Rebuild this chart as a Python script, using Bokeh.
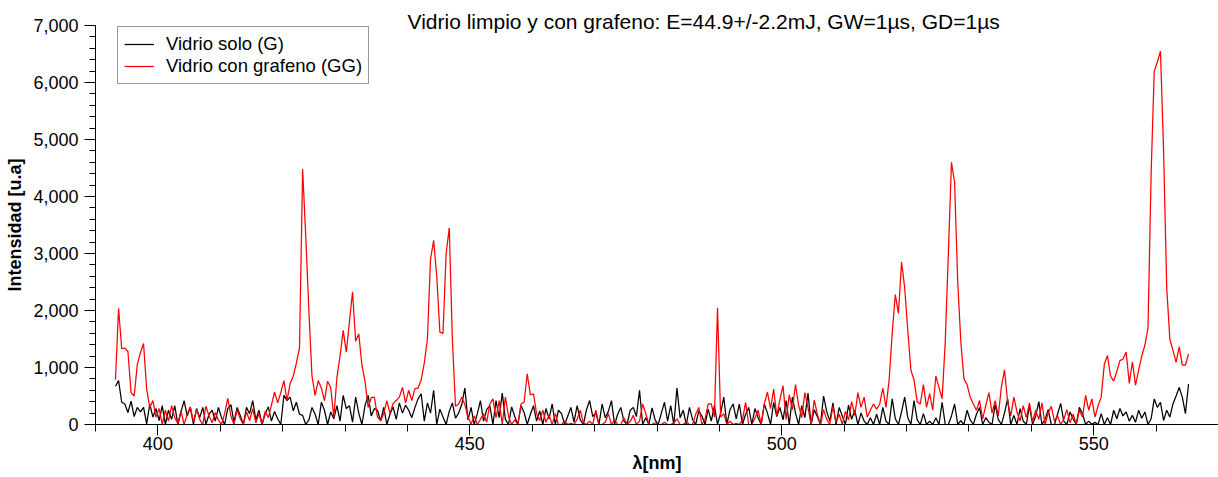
from bokeh.plotting import figure
from bokeh.models import (Range1d, SingleIntervalTicker, NumeralTickFormatter, Title,
                          Legend, LegendItem, ColumnDataSource)
from bokeh.embed import file_html
from bokeh.resources import INLINE

title_text = "Vidrio limpio y con grafeno: E=44.9+/-2.2mJ, GW=1µs, GD=1µs"
x_label = "λ[nm]"
y_label = "Intensidad [u.a]"
series_names = ["Vidrio solo (G)", "Vidrio con grafeno (GG)"]

# wavelength grid of the spectrometer (nm)
wl_start = 393.2
wl_step = 0.5

# Vidrio solo (G)
glass = [
    670, 770, 390, 360, 210, 410, 140, 300, 220, 300, 10, 360, 130, 280,
    70, 330, 0, 250, 90, 330, 0, 220, 420, 150, 300, 0, 280, 120, 300, 0, 180, 250, 60, 300,
    120, 0, 280, 350, 40, 300, 160, 0, 300, 190, 420, 80, 250, 0, 190, 310, 60, 230, 100, 0,
    510, 420, 480, 240, 390, 180, 160, 0, 80, 300, 180, 0, 390, 250, 0, 220, 100, 330, 60, 510,
    280, 330, 40, 480, 200, 0, 330, 510, 150, 280, 250, 60, 300, 0, 180, 310, 90, 380, 200, 340,
    250, 120, 300, 450, 540, 60, 380, 200, 600, 0, 270, 130, 0, 230, 380, 110, 200, 350, 640, 80,
    300, 0, 190, 420, 60, 260, 330, 0, 420, 120, 550, 90, 0, 310, 140, 0, 330, 210, 0, 180,
    330, 60, 240, 0, 280, 100, 360, 0, 250, 190, 0, 150, 300, 40, 330, 80, 0, 260, 420, 140,
    200, 0, 360, 120, 230, 420, 0, 180, 300, 60, 0, 250, 300, 140, 600, 0, 120, 0, 290, 80,
    0, 200, 390, 60, 330, 0, 640, 120, 250, 0, 300, 90, 0, 240, 150, 0, 270, 60, 330, 0,
    200, 480, 0, 260, 360, 100, 360, 0, 180, 300, 0, 280, 120, 0, 360, 200, 0, 390, 140, 300,
    80, 420, 0, 480, 200, 0, 330, 120, 550, 0, 260, 140, 0, 500, 230, 60, 380, 0, 300, 150,
    0, 340, 90, 250, 0, 200, 60, 0, 120, 0, 180, 0, 300, 60, 0, 450, 100, 0, 220, 480,
    120, 0, 420, 80, 0, 190, 0, 60, 0, 120, 0, 390, 0, 0, 150, 360, 0, 70, 0, 250,
    80, 0, 180, 300, 0, 120, 40, 0, 350, 90, 0, 200, 450, 0, 160, 0, 280, 60, 0, 330,
    0, 150, 400, 0, 90, 260, 0, 0, 180, 370, 60, 0, 220, 100, 0, 300, 190, 0, 60, 0,
    40, 0, 190, 0, 120, 0, 250, 100, 280, 150, 220, 60, 160, 40, 250, 110, 220, 0, 100, 450,
    300, 390, 70, 250, 130, 360, 500, 650, 480, 190, 710,
]

# Vidrio con grafeno (GG)
graphene = [
    790, 2040, 1330, 1340, 1280, 560, 500, 1050, 1260, 1420, 620, 300, 420, 130,
    280, 0, 250, 60, 330, 120, 20, 240, 0, 180, 310, 40, 270, 90, 0, 320, 150, 30, 210, 80,
    0, 190, 460, 150, 0, 260, 100, 0, 220, 70, 280, 30, 190, 0, 230, 120, 340, 570, 380, 560,
    770, 420, 720, 850, 1080, 1350, 4480, 3300, 2000, 850, 510, 770, 640, 420, 760, 650, 130, 830, 1200, 1650,
    1270, 1800, 2330, 1460, 1590, 1040, 760, 300, 470, 480, 130, 70, 190, 420, 190, 370, 420, 480, 650, 380,
    600, 420, 630, 640, 780, 1080, 1500, 2900, 3230, 2600, 1620, 1600, 3000, 3450, 1500, 320, 360, 480, 350, 130,
    10, 150, 0, 90, 190, 40, 360, 450, 120, 420, 0, 480, 140, 0, 80, 0, 360, 390, 890, 520,
    540, 190, 70, 250, 40, 160, 0, 190, 0, 0, 60, 0, 20, 0, 90, 250, 30, 0, 60, 0,
    250, 0, 0, 40, 190, 0, 80, 0, 0, 120, 0, 50, 160, 0, 60, 360, 190, 0, 0, 30,
    0, 0, 40, 0, 0, 30, 100, 0, 0, 50, 0, 0, 180, 300, 0, 90, 360, 360, 130, 2050,
    130, 190, 0, 60, 0, 20, 0, 80, 390, 0, 0, 110, 250, 0, 360, 570, 280, 620, 150, 430,
    680, 90, 520, 260, 700, 340, 120, 560, 300, 0, 430, 180, 0, 260, 90, 0, 320, 40, 180, 0,
    230, 80, 400, 160, 560, 300, 480, 130, 250, 360, 270, 360, 640, 300, 770, 1600, 2280, 1950, 2850, 2400,
    1650, 950, 780, 400, 360, 700, 300, 540, 250, 850, 650, 450, 1450, 3000, 4600, 4250, 2500, 1450, 800, 700,
    480, 360, 250, 420, 100, 330, 560, 200, 420, 150, 660, 960, 400, 150, 480, 220, 60, 330, 120, 380,
    40, 250, 90, 380, 0, 200, 320, 60, 150, 0, 90, 260, 30, 180, 0, 250, 130, 510, 250, 450,
    130, 330, 480, 1060, 1210, 850, 760, 930, 1120, 1150, 1270, 720, 1100, 690, 950, 1200, 1390, 1700, 4400, 6200,
    6360, 6550, 4800, 2400, 1500, 1300, 1090, 1360, 1040, 1040, 1240,
]

n = min(len(glass), len(graphene))
wavelength = [round(wl_start + wl_step * i, 2) for i in range(n)]

source = ColumnDataSource(data=dict(wl=wavelength, g=glass[:n], gg=graphene[:n]))

FONT = "Liberation Sans"

p = figure(width=1218, height=477, output_backend="svg", toolbar_location=None,
           x_range=Range1d(390, 570), y_range=Range1d(0, 7000),
           min_border_left=95, min_border_right=0, min_border_top=25, min_border_bottom=53,
           background_fill_color="white", border_fill_color="white")
p.outline_line_color = None
p.xgrid.visible = False
p.ygrid.visible = False

r_g = p.line("wl", "g", source=source, line_color="#000000", line_width=1.25)
r_gg = p.line("wl", "gg", source=source, line_color="#ff0000", line_width=1.25)

xa = p.xaxis[0]
ya = p.yaxis[0]
xa.ticker = SingleIntervalTicker(interval=50, num_minor_ticks=5)
ya.ticker = SingleIntervalTicker(interval=1000, num_minor_ticks=5)
ya.formatter = NumeralTickFormatter(format="0,0")

for ax in (xa, ya):
    ax.axis_line_color = "black"
    ax.axis_line_width = 1
    ax.major_tick_line_color = "black"
    ax.minor_tick_line_color = "black"
    ax.major_tick_in = 0
    ax.minor_tick_in = 0
    ax.major_tick_out = 11
    ax.major_label_text_font = FONT
    ax.major_label_text_font_size = "18px"
    ax.major_label_text_color = "black"
    ax.axis_label_text_font = FONT
    ax.axis_label_text_font_size = "18px"
    ax.axis_label_text_font_style = "bold"
    ax.axis_label_text_color = "black"

xa.minor_tick_out = 7
ya.minor_tick_out = 6
xa.axis_label = x_label
ya.axis_label = y_label
xa.major_label_standoff = 1
xa.axis_label_standoff = 0
ya.major_label_standoff = 6
ya.axis_label_standoff = 5

legend = Legend(items=[LegendItem(label=series_names[0], renderers=[r_g]),
                       LegendItem(label=series_names[1], renderers=[r_gg])],
                location=(22, 340), orientation="vertical",
                label_text_font=FONT, label_text_font_size="18.5px", label_text_color="black",
                glyph_width=30, glyph_height=20, label_height=20, label_standoff=12,
                padding=6, spacing=0, margin=0,
                border_line_color="#333333", border_line_width=1,
                background_fill_color="white", background_fill_alpha=1)
p.add_layout(legend)

title = Title(text=title_text, align="left", offset=312, standoff=-14,
              vertical_align="bottom",
              text_font=FONT, text_font_size="21px", text_font_style="normal",
              text_color="black")
p.add_layout(title, "above")

open("out.html", "w").write(file_html(p, INLINE))
